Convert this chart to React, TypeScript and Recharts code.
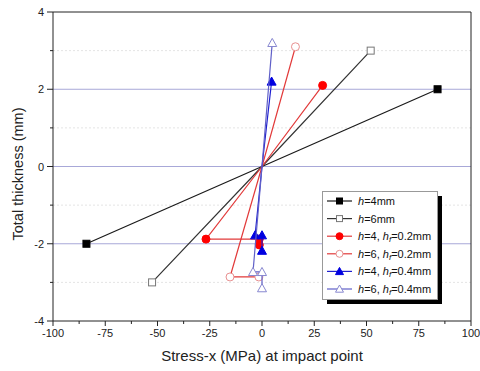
import React from 'react';
import { ComposedChart, Scatter, XAxis, YAxis, ReferenceLine } from 'recharts';

// ---- data ----
const h4mm = [
  { x: -84, y: -2 },
  { x: 0, y: 0 },
  { x: 84, y: 2 },
];
const h6mm = [
  { x: -52.6, y: -3 },
  { x: 0, y: 0 },
  { x: 52, y: 3 },
];
const h4hf02 = [
  { x: 29, y: 2.1 },
  { x: 0, y: 0 },
  { x: -26.8, y: -1.88 },
  { x: -1.3, y: -1.88 },
  { x: -1.3, y: -2.03 },
];
const h6hf02 = [
  { x: 16, y: 3.1 },
  { x: 0, y: 0 },
  { x: -15.3, y: -2.86 },
  { x: -1.5, y: -2.86 },
];
const h4hf04 = [
  { x: 4.6, y: 2.2 },
  { x: 0, y: 0 },
  { x: -3.3, y: -1.78 },
  { x: 0, y: -1.78 },
  { x: 0, y: -2.18 },
];
const h6hf04 = [
  { x: 4.9, y: 3.2 },
  { x: 0, y: 0 },
  { x: -4.3, y: -2.73 },
  { x: 0, y: -2.73 },
  { x: 0, y: -3.15 },
];

const xTicks = [-100, -87.5, -75, -62.5, -50, -37.5, -25, -12.5, 0, 12.5, 25, 37.5, 50, 62.5, 75, 87.5, 100];
const xLabelTicks = [-100, -75, -50, -25, 0, 25, 50, 75, 100];
const yTicks = [-4, -3, -2, -1, 0, 1, 2, 3, 4];
const yLabelTicks = [-4, -2, 0, 2, 4];
const majorGrid = [-2, 0, 2];
const minorGrid = [-3, -1, 1, 3];

const legendH = ['4mm', '6mm', '4', '6', '4', '6'];
const legendHf = [null, null, '0.2mm', '0.2mm', '0.4mm', '0.4mm'];

type Sty = { line: string; marker: 'square' | 'circle' | 'triangle'; fill: string; stroke: string; size: number };
const styles: Sty[] = [
  { line: '#1a1a1a', marker: 'square', fill: '#000', stroke: '#000', size: 3.5 },
  { line: '#333', marker: 'square', fill: '#fff', stroke: '#777', size: 3.5 },
  { line: '#e23a3a', marker: 'circle', fill: '#f00', stroke: '#f00', size: 4 },
  { line: '#e23a3a', marker: 'circle', fill: '#fff', stroke: '#e89090', size: 4 },
  { line: '#2020d0', marker: 'triangle', fill: '#0000e0', stroke: '#0000e0', size: 4.5 },
  { line: '#6060c8', marker: 'triangle', fill: '#fff', stroke: '#8888d0', size: 4.5 },
];

const FONT = '"Liberation Sans", Arial, sans-serif';

function Marker({ cx, cy, s }: { cx: number; cy: number; s: Sty }) {
  const r = s.size;
  if (s.marker === 'square')
    return <rect x={cx - r} y={cy - r} width={2 * r} height={2 * r} fill={s.fill} stroke={s.stroke} strokeWidth={1} />;
  if (s.marker === 'circle') return <circle cx={cx} cy={cy} r={r} fill={s.fill} stroke={s.stroke} strokeWidth={1} />;
  return (
    <path
      d={`M${cx},${cy - r} L${cx + r},${cy + r * 0.8} L${cx - r},${cy + r * 0.8} Z`}
      fill={s.fill}
      stroke={s.stroke}
      strokeWidth={1}
    />
  );
}

const makeShape = (s: Sty) => (props: any) => {
  const p = props.payload || {};
  if (p.x === 0 && p.y === 0) return <g />;
  return <Marker cx={props.cx} cy={props.cy} s={s} />;
};

const YTick = (props: any) => {
  const { x, y, payload } = props;
  const v = payload.value;
  const major = yLabelTicks.includes(v);
  return (
    <g>
      <line x1={x} x2={x - (major ? 6 : 3)} y1={y} y2={y} stroke="#222" strokeWidth={1} />
      {major && (
        <text x={x - 9} y={y} textAnchor="end" dominantBaseline="central" fontSize={11} fill="#222" fontFamily={FONT}>
          {v}
        </text>
      )}
    </g>
  );
};

const RTick = (props: any) => {
  const { x, y, payload } = props;
  const major = yLabelTicks.includes(payload.value);
  return <line x1={x} x2={x + (major ? 5 : 3)} y1={y} y2={y} stroke="#222" strokeWidth={1} />;
};

const XTick = (props: any) => {
  const { x, y, payload } = props;
  const v = payload.value;
  const major = xLabelTicks.includes(v);
  return (
    <g>
      <line x1={x} x2={x} y1={y} y2={y + (major ? 5 : 3)} stroke="#222" strokeWidth={1} />
      {major && (
        <text x={x} y={y + 16} textAnchor="middle" fontSize={11} fill="#222" fontFamily={FONT}>
          {v}
        </text>
      )}
    </g>
  );
};

const LegendBox = () => {
  const w = 115;
  const h = 108;
  const rowH = 17.6;
  return (
    <svg width={w + 8} height={h + 8} style={{ display: 'block', overflow: 'visible' }}>
      <rect x={5} y={5} width={w} height={h} fill="#000" />
      <rect x={0.5} y={0.5} width={w} height={h} fill="#fff" stroke="#999" strokeWidth={1} />
      {styles.map((s, i) => {
        const cy = 10 + i * rowH;
        const hf = legendHf[i];
        return (
          <g key={i}>
            <line x1={5} x2={30} y1={cy} y2={cy} stroke={s.line} strokeWidth={1.2} />
            <Marker cx={17.5} cy={cy} s={{ ...s, size: s.size - 0.5 }} />
            <text x={36} y={cy + 4} fontSize={11} fill="#111" fontFamily={FONT}>
              <tspan fontStyle="italic">h</tspan>
              <tspan>{'=' + legendH[i] + (hf ? ', ' : '')}</tspan>
              {hf && <tspan fontStyle="italic">h</tspan>}
              {hf && (
                <tspan fontStyle="italic" fontSize={8} dy={2}>
                  f
                </tspan>
              )}
              {hf && <tspan dy={-2}>{'=' + hf}</tspan>}
            </text>
          </g>
        );
      })}
    </svg>
  );
};

const series = [h4mm, h6mm, h4hf02, h6hf02, h4hf04, h6hf04];
const names = ['h=4mm', 'h=6mm', 'h=4, hf=0.2mm', 'h=6, hf=0.2mm', 'h=4, hf=0.4mm', 'h=6, hf=0.4mm'];

export default function App() {
  return (
    <div style={{ position: 'absolute', left: 0, top: 0, width: 480, height: 371, background: '#fff' }}>
      <ComposedChart width={480} height={371} margin={{ top: 12, right: 0, bottom: 0, left: 0 }}>
        <XAxis
          type="number"
          dataKey="x"
          domain={[-100, 100]}
          ticks={xTicks}
          interval={0}
          allowDataOverflow
          height={50}
          tickSize={0}
          tickMargin={0}
          tickLine={false}
          tick={<XTick />}
          stroke="#222"
          label={{
            content: () => (
              <text x={262} y={361} textAnchor="middle" fontSize={15} fill="#222" fontFamily={FONT}>
                Stress-x (MPa) at impact point
              </text>
            ),
          }}
        />
        <YAxis
          yAxisId="l"
          type="number"
          dataKey="y"
          domain={[-4, 4]}
          ticks={yTicks}
          interval={0}
          allowDataOverflow
          width={53}
          tickSize={0}
          tickMargin={0}
          tickLine={false}
          tick={<YTick />}
          stroke="#222"
          label={{
            content: () => (
              <text
                x={18}
                y={174}
                transform="rotate(-90 18 174)"
                textAnchor="middle"
                dominantBaseline="central"
                fontSize={14.5}
                fill="#222"
                fontFamily={FONT}
              >
                Total thickness (mm)
              </text>
            ),
          }}
        />
        <YAxis
          yAxisId="r"
          orientation="right"
          type="number"
          domain={[-4, 4]}
          ticks={yTicks}
          interval={0}
          width={9}
          tickSize={0}
          tickMargin={0}
          tickLine={false}
          tick={<RTick />}
          stroke="#222"
        />
        {minorGrid.map((v) => (
          <ReferenceLine key={'m' + v} yAxisId="l" y={v} stroke="#e4e4e4" strokeDasharray="2 2" strokeWidth={1} />
        ))}
        {majorGrid.map((v) => (
          <ReferenceLine key={'g' + v} yAxisId="l" y={v} stroke="#a8a8d8" strokeWidth={1} />
        ))}
        <ReferenceLine yAxisId="l" y={4} stroke="#222" strokeWidth={1} />
        {series.map((d, i) => (
          <Scatter
            key={i}
            yAxisId="l"
            name={names[i]}
            data={d}
            line={{ stroke: styles[i].line, strokeWidth: 1.2 }}
            lineType="joint"
            shape={makeShape(styles[i])}
            isAnimationActive={false}
          />
        ))}
      </ComposedChart>
      <div style={{ position: 'absolute', left: 322, top: 191 }}>
        <LegendBox />
      </div>
    </div>
  );
}
